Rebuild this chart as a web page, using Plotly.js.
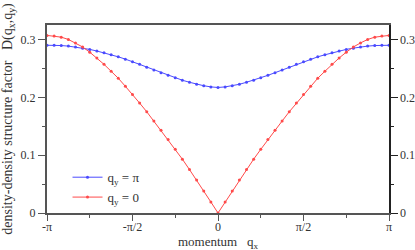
<!DOCTYPE html>
<html>
<head>
<meta charset="utf-8">
<script src="https://cdn.plot.ly/plotly-3.0.1.min.js"></script>
<style>html,body{margin:0;padding:0;background:#fff;}#chart{width:415px;height:250px;}</style>
</head>
<body>
<div id="chart"></div>
<script>
// lattice momentum index k: qx = k*pi/24
const kIndex = [-24,-23,-22,-21,-20,-19,-18,-17,-16,-15,-14,-13,-12,-11,-10,-9,-8,-7,-6,-5,-4,-3,-2,-1,0,1,2,3,4,5,6,7,8,9,10,11,12,13,14,15,16,17,18,19,20,21,22,23,24];
// D(qx, qy=pi)
const dQyPi = [0.290,0.290,0.2895,0.2885,0.287,0.285,0.2828,0.280,0.277,0.2735,0.270,0.266,0.2615,0.257,0.252,0.247,0.2425,0.238,0.234,0.2295,0.226,0.2225,0.220,0.218,0.217,
               0.218,0.220,0.2225,0.226,0.2295,0.234,0.238,0.2425,0.247,0.252,0.257,0.2615,0.266,0.270,0.2735,0.277,0.280,0.2828,0.285,0.287,0.2885,0.2895,0.290,0.290];
// D(qx, qy=0)
const dQy0 = [0.307,0.306,0.304,0.300,0.294,0.287,0.278,0.268,0.257,0.245,0.233,0.219,0.205,0.190,0.175,0.159,0.143,0.127,0.110,0.093,0.075,0.057,0.038,0.019,0.000,
              0.019,0.038,0.057,0.075,0.093,0.110,0.127,0.143,0.159,0.175,0.190,0.205,0.219,0.233,0.245,0.257,0.268,0.278,0.287,0.294,0.300,0.304,0.306,0.307];
const xTickVals = [-1,-0.5,0,0.5,1];
const xTickText = ['-π','-π/2','0','π/2','π'];
const yTickVals = [0,0.1,0.2,0.3];
const yTickText = ['0','0.1','0.2','0.3'];
const xTitle = 'momentum   q<sub>x</sub>';
const yTitle = 'density-density structure factor   D(q<sub>x</sub>,q<sub>y</sub>)';

const qx = kIndex.map(k => k/24); // in units of pi

const blue = '#4a4aff', red = '#ff4a4a';
const traces = [
  {x: qx, y: dQyPi, type:'scatter', mode:'lines+markers', name:'q<sub>y</sub> = π',
   line:{color:blue, width:1}, marker:{color:blue, size:3}, cliponaxis:false, yaxis:'y'},
  {x: qx, y: dQy0, type:'scatter', mode:'lines+markers', name:'q<sub>y</sub> = 0',
   line:{color:red, width:1}, marker:{color:red, size:3}, cliponaxis:false, yaxis:'y2'}
];
const fam = "'Liberation Serif', 'Times New Roman', 'DejaVu Serif', serif";
const font = {family:fam, size:12, color:'#333'};
const axLine = '#555';
const layout = {
  width:415, height:250,
  margin:{l:47, r:26, t:25, b:37},
  paper_bgcolor:'#fff', plot_bgcolor:'#fff',
  font: font,
  showlegend:true,
  legend:{x:0.06, y:0.27, xanchor:'left', yanchor:'top', bgcolor:'rgba(0,0,0,0)',
          font:{family:fam, size:13, color:'#333'}, itemwidth:30, tracegroupgap:0},
  xaxis:{range:[-1,1], tickmode:'array', tickvals:xTickVals, ticktext:xTickText,
         ticks:'outside', ticklen:6, tickwidth:1, tickcolor:axLine, ticklabelstandoff:-4,
         showline:true, linecolor:axLine, linewidth:2, mirror:true,
         showgrid:false, zeroline:false,
         minor:{tickmode:'array', tickvals:[-0.75,-0.25,0.25,0.75], ticks:'outside', ticklen:3, tickcolor:axLine, showgrid:false}},
  yaxis:{range:[0,0.325], tickmode:'array', tickvals:yTickVals, ticktext:yTickText,
         ticks:'outside', ticklen:7, tickwidth:1, tickcolor:axLine,
         showline:true, linecolor:axLine, linewidth:2,
         showgrid:false, zeroline:false,
         minor:{tickmode:'array', tickvals:[0.05,0.15,0.25], ticks:'outside', ticklen:3, tickcolor:axLine, showgrid:false},
         title:{text:yTitle, font:{family:fam, size:14, color:'#333'}}},
  yaxis2:{range:[0,0.325], overlaying:'y', side:'right', tickmode:'array', tickvals:yTickVals, ticktext:yTickText,
         ticks:'outside', ticklen:7, tickwidth:1, tickcolor:'#222',
         showline:true, linecolor:'#222', linewidth:1.5,
         showgrid:false, zeroline:false,
         minor:{tickmode:'array', tickvals:[0.05,0.15,0.25], ticks:'outside', ticklen:3, tickcolor:'#222', showgrid:false}},
  annotations:[{text:xTitle, xref:'paper', yref:'paper', x:0.5, y:0, xanchor:'center', yanchor:'top',
                yshift:-19, showarrow:false, font:{family:fam, size:13, color:'#333'}}]
};
Plotly.newPlot('chart', traces, layout, {displayModeBar:false, staticPlot:true});
</script>
</body>
</html>
